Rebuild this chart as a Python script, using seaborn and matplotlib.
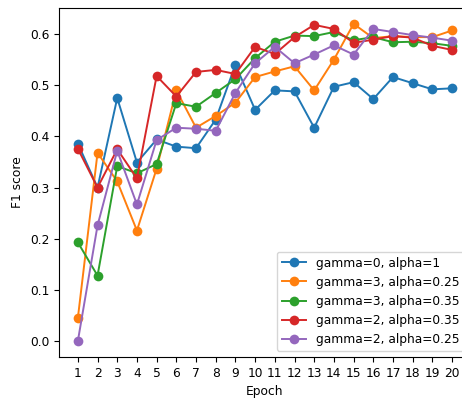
import pandas as pd
import matplotlib
matplotlib.use('Agg')
import matplotlib.pyplot as plt
import seaborn as sns

epochs = list(range(1, 21))

f1_g0_a1 = [0.386, 0.300, 0.475, 0.349, 0.394, 0.380, 0.377, 0.433, 0.540, 0.452,
            0.490, 0.488, 0.417, 0.497, 0.506, 0.473, 0.516, 0.504, 0.492, 0.494]
f1_g3_a025 = [0.045, 0.368, 0.312, 0.216, 0.337, 0.490, 0.417, 0.440, 0.466, 0.516,
              0.527, 0.537, 0.490, 0.550, 0.620, 0.592, 0.596, 0.594, 0.594, 0.607]
f1_g3_a035 = [0.193, 0.128, 0.342, 0.328, 0.346, 0.465, 0.458, 0.485, 0.512, 0.553,
              0.585, 0.597, 0.596, 0.604, 0.588, 0.594, 0.584, 0.585, 0.582, 0.577]
f1_g2_a035 = [0.376, 0.300, 0.375, 0.318, 0.518, 0.478, 0.526, 0.530, 0.522, 0.575,
              0.561, 0.594, 0.618, 0.610, 0.583, 0.589, 0.596, 0.593, 0.577, 0.569]
f1_g2_a025 = [0.000, 0.226, 0.372, 0.267, 0.393, 0.417, 0.415, 0.411, 0.485, 0.543,
              0.575, 0.543, 0.560, 0.578, 0.560, 0.610, 0.604, 0.598, 0.593, 0.587]

series = {
    'gamma=0, alpha=1': f1_g0_a1,
    'gamma=3, alpha=0.25': f1_g3_a025,
    'gamma=3, alpha=0.35': f1_g3_a035,
    'gamma=2, alpha=0.35': f1_g2_a035,
    'gamma=2, alpha=0.25': f1_g2_a025,
}

# long format for seaborn
rows = []
for name, vals in series.items():
    for ep, v in zip(epochs, vals):
        rows.append({'Epoch': ep, 'F1 score': v, 'run': name})
df = pd.DataFrame(rows)

plt.rcParams['font.size'] = 8.8

fig, ax = plt.subplots(figsize=(4.62, 3.98), dpi=100)
sns.lineplot(data=df, x='Epoch', y='F1 score', hue='run', marker='o',
             markersize=7, markeredgewidth=0, linewidth=1.4,
             palette='tab10', ax=ax)

ax.set_xticks(epochs)
ax.set_xlabel('Epoch')
ax.set_ylabel('F1 score')
ax.legend(loc='lower right', title=None)

# the reference is cropped on the right, so the axes run past the edge
plt.subplots_adjust(left=0.128, right=1.019, top=0.98, bottom=0.103)
plt.savefig('out.png', dpi=100)
